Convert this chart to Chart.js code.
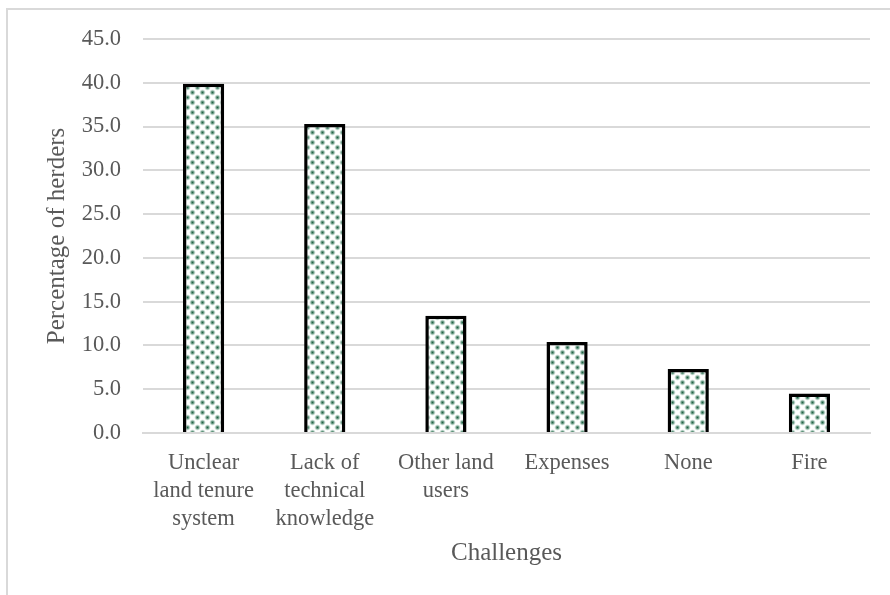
<!DOCTYPE html>
<html>
<head>
<meta charset="utf-8">
<script src="https://cdn.jsdelivr.net/npm/chart.js@4"></script>
<style>
  html, body { margin: 0; padding: 0; background: #fff; }
  body { width: 890px; height: 595px; position: relative; overflow: hidden; }
  .frame {
    position: absolute; left: 6px; top: 8px; width: 1000px; height: 1000px;
    border: 2px solid #d9d9d9; box-sizing: border-box;
  }
  #wrap { position: absolute; left: 0; top: 0; width: 890px; height: 595px; }
</style>
</head>
<body>
<div class="frame"></div>
<div id="wrap"><canvas id="challengesChart" width="890" height="595"></canvas></div>
<script>
const challenges = [
    ['Unclear', 'land tenure', 'system'],
    ['Lack of', 'technical', 'knowledge'],
    ['Other land', 'users'],
    'Expenses',
    'None',
    'Fire'
];
const herderShare = [39.9, 35.3, 13.4, 10.4, 7.3, 4.5];
const yMin = 0;
const yMax = 45;
const yStep = 5;

const FONT = '"Liberation Serif", "Times New Roman", serif';
const TEXT = '#595959';
const GRID = '#d9d9d9';

// dotted fill used inside the bars (staggered soft green dots)
function dotPattern() {
    const w = 10, h = 10;
    const tile = document.createElement('canvas');
    tile.width = w;
    tile.height = h;
    const t = tile.getContext('2d');
    t.fillStyle = '#ffffff';
    t.fillRect(0, 0, w, h);
    const dots = [[2.5, 2.5], [7.5, 7.5], [-2.5, 7.5], [12.5, 2.5], [2.5, 12.5], [7.5, -2.5]];
    dots.forEach(([x, y]) => {
        const g = t.createRadialGradient(x, y, 0, x, y, 3.4);
        g.addColorStop(0, 'rgba(34, 96, 70, 1)');
        g.addColorStop(0.4, 'rgba(66, 128, 100, 0.75)');
        g.addColorStop(1, 'rgba(170, 205, 190, 0)');
        t.fillStyle = g;
        t.beginPath();
        t.arc(x, y, 3.4, 0, Math.PI * 2);
        t.fill();
    });
    return t.createPattern(tile, 'repeat');
}

const ctx = document.getElementById('challengesChart').getContext('2d');

new Chart(ctx, {
    type: 'bar',
    data: {
        labels: challenges,
        datasets: [{
            data: herderShare,
            backgroundColor: dotPattern(),
            borderColor: '#000000',
            borderWidth: 3.5,
            borderSkipped: 'bottom',
            barPercentage: 0.34,
            categoryPercentage: 1.0
        }]
    },
    options: {
        responsive: false,
        animation: false,
        devicePixelRatio: 1,
        layout: { padding: { left: 42, right: 20, top: 39, bottom: 18 } },
        plugins: {
            legend: { display: false },
            tooltip: { enabled: false }
        },
        scales: {
            y: {
                min: yMin,
                max: yMax,
                afterFit: s => { s.width = 101; },
                ticks: {
                    stepSize: yStep,
                    color: TEXT,
                    padding: 22,
                    font: { family: FONT, size: 22.5 },
                    callback: v => Number(v).toFixed(1)
                },
                grid: { color: GRID, lineWidth: 2, drawTicks: false },
                border: { display: false },
                title: {
                    display: true,
                    text: 'Percentage of herders',
                    color: TEXT,
                    font: { family: FONT, size: 25 },
                    padding: 0
                }
            },
            x: {
                afterFit: s => { s.height = 144; },
                ticks: {
                    color: TEXT,
                    padding: 16,
                    maxRotation: 0,
                    autoSkip: false,
                    font: { family: FONT, size: 22.5, lineHeight: 1.24 }
                },
                grid: { display: false, drawTicks: false },
                border: { color: GRID, width: 2 },
                title: {
                    display: true,
                    text: 'Challenges',
                    color: TEXT,
                    font: { family: FONT, size: 25 },
                    padding: { top: 0, bottom: 9 }
                }
            }
        }
    }
});
</script>
</body>
</html>
